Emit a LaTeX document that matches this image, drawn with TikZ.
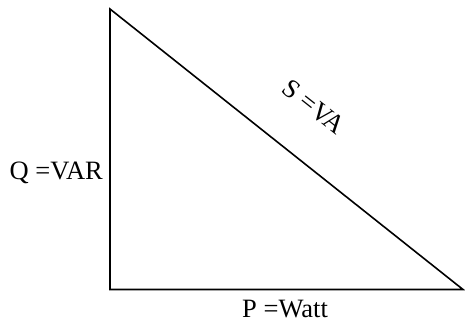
\documentclass[tikz,border=0pt]{standalone}
\usepackage{fontspec}
\setmainfont{Liberation Serif}
\begin{document}
\begin{tikzpicture}[x=1pt,y=1pt,
  side/.style={line width=1.6pt, line join=miter},
  lbl/.style={inner sep=0pt, font=\rmfamily\fontsize{26.5}{30}\selectfont}]
\useasboundingbox (0,0) rectangle (465,322);
\coordinate (top) at (110,313);
\coordinate (bl) at (110,32.5);
\coordinate (br) at (463,32.5);
\draw[side] (top) -- (bl) -- (br) -- cycle;
\node[lbl, anchor=base east] (q) at (103,143) {Q =VAR};
\node[lbl, anchor=base west] (p) at (242,5) {P =Watt};
\node[lbl, rotate=-38.4] (s) at (314,215) {S =VA};
\end{tikzpicture}
\end{document}
